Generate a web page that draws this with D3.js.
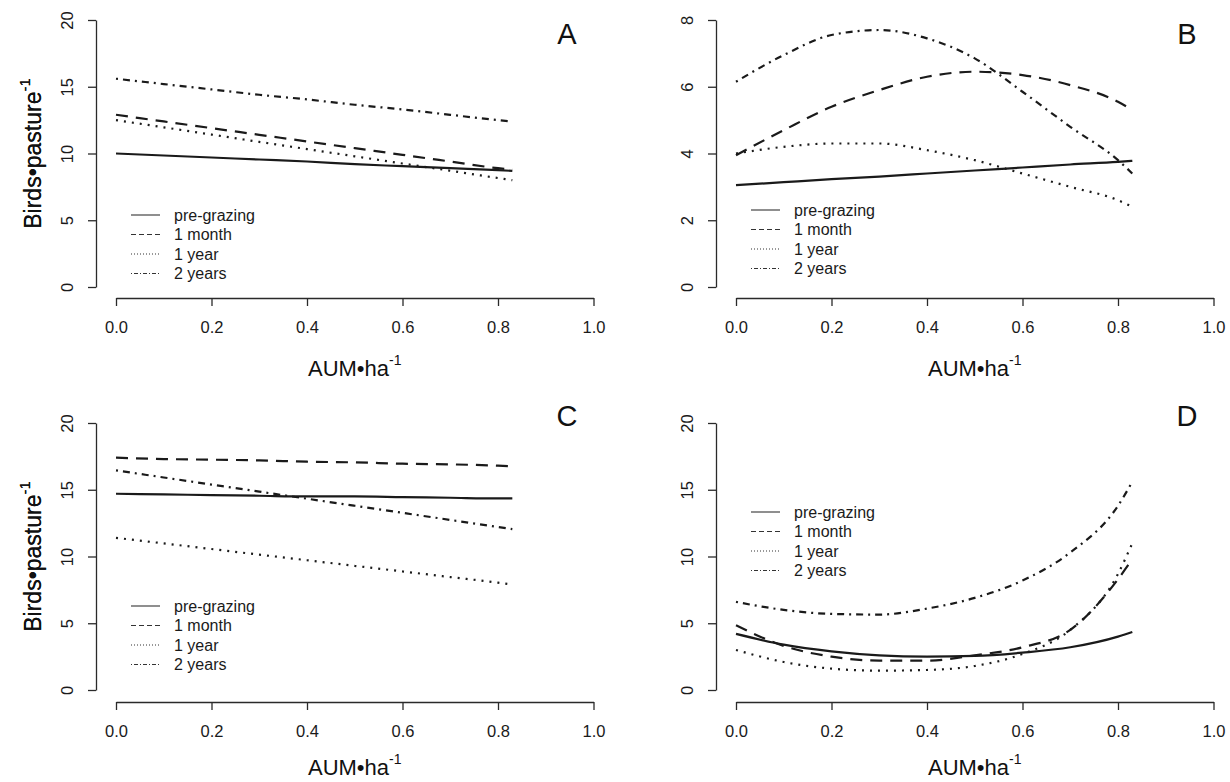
<!DOCTYPE html>
<meta charset="utf-8">
<script src="https://d3js.org/d3.v7.min.js"></script>
<style>
  body { margin: 0; background: #fff; }
  svg { font-family: "Liberation Sans", Arial, Helvetica, sans-serif; }
  .axis path, .axis line { stroke: #2a2a2a; stroke-width: 1.3px; }
  .axis text { font-size: 16.5px; fill: #1a1a1a; font-family: "Liberation Sans", Arial, sans-serif; }
</style>
<body>
<script>

// x values (AUM per ha) where the fitted curves were read
var aum = [0, 0.1, 0.2, 0.3, 0.4, 0.5, 0.6, 0.7, 0.8, 0.83];
var seriesNames = ["pre-grazing", "1 month", "1 year", "2 years"];
var xTicks = [0, 0.2, 0.4, 0.6, 0.8, 1.0];

// panel A
var aPre   = [10.0, 9.85, 9.7, 9.55, 9.4, 9.2, 9.05, 8.9, 8.75, 8.7];
var aMonth = [12.9, 12.4, 11.9, 11.4, 10.9, 10.4, 9.9, 9.4, 8.9, 8.8];
var aYear  = [12.5, 11.96, 11.42, 10.87, 10.33, 9.79, 9.25, 8.71, 8.16, 8.0];
var aTwo   = [15.6, 15.2, 14.8, 14.4, 14.05, 13.65, 13.3, 12.9, 12.5, 12.4];

// panel B
var bPre   = [3.05, 3.14, 3.23, 3.31, 3.40, 3.49, 3.58, 3.67, 3.75, 3.78];
var bMonth = [3.95, 4.7, 5.4, 5.9, 6.3, 6.45, 6.35, 6.05, 5.55, 5.3];
var bYear  = [4.0, 4.2, 4.3, 4.3, 4.1, 3.8, 3.4, 3.0, 2.6, 2.4];
var bTwo   = [6.15, 6.95, 7.55, 7.7, 7.45, 6.85, 5.85, 4.8, 3.8, 3.4];

// panel C
var cPre   = [14.7, 14.65, 14.6, 14.55, 14.5, 14.5, 14.45, 14.4, 14.35, 14.35];
var cMonth = [17.4, 17.3, 17.25, 17.2, 17.1, 17.05, 16.95, 16.9, 16.8, 16.75];
var cYear  = [11.4, 10.98, 10.56, 10.14, 9.72, 9.3, 8.88, 8.46, 8.04, 7.9];
var cTwo   = [16.45, 15.92, 15.39, 14.86, 14.33, 13.8, 13.27, 12.74, 12.21, 12.05];

// panel D
var dPre   = [4.2, 3.4, 2.9, 2.6, 2.5, 2.55, 2.8, 3.2, 4.0, 4.35];
var dMonth = [4.85, 3.3, 2.5, 2.2, 2.2, 2.6, 3.2, 4.5, 8.3, 9.8];
var dYear  = [3.0, 2.1, 1.6, 1.45, 1.5, 1.8, 2.7, 4.5, 8.7, 11.0];
var dTwo   = [6.6, 6.0, 5.7, 5.65, 6.1, 6.9, 8.2, 10.3, 13.8, 15.6];

var yTicks20 = [0, 5, 10, 15, 20];
var yTicks8 = [0, 2, 4, 6, 8];

// line styles: solid, dashed, dotted, dot-dash
var dashMain = [null, "12,8", "2,6", "2,5,7,5"];
var dashLegend = [null, "5,3", "1,2", "1,2,4,2"];

// layout of the four panels (pixel positions)
var panels = [
  {letter: "A", series: [aPre, aMonth, aYear, aTwo], yMax: 20, yTicks: yTicks20,
   x0: 116, x1: 593.5, yTop: 20, yBot: 287, yAxisX: 96, xAxisY: 298, titleY: 376, legendY: [215, 234.5, 254, 273.5]},
  {letter: "B", series: [bPre, bMonth, bYear, bTwo], yMax: 8, yTicks: yTicks8,
   x0: 736, x1: 1213.5, yTop: 20, yBot: 287, yAxisX: 716, xAxisY: 298, titleY: 376, legendY: [210, 229.5, 249, 268.5]},
  {letter: "C", series: [cPre, cMonth, cYear, cTwo], yMax: 20, yTicks: yTicks20,
   x0: 116, x1: 593.5, yTop: 423, yBot: 690, yAxisX: 96, xAxisY: 702, titleY: 775, legendY: [606, 625.5, 645, 664.5]},
  {letter: "D", series: [dPre, dMonth, dYear, dTwo], yMax: 20, yTicks: yTicks20,
   x0: 736, x1: 1213.5, yTop: 423, yBot: 690, yAxisX: 716, xAxisY: 702, titleY: 775, legendY: [512, 531.5, 551, 570.5]}
];

var svg = d3.select("body").append("svg")
  .attr("width", 1230)
  .attr("height", 782);

panels.forEach(function(p) {
  var x = d3.scaleLinear().domain([0, 1]).range([p.x0, p.x1]);
  var y = d3.scaleLinear().domain([0, p.yMax]).range([p.yBot, p.yTop]);
  var g = svg.append("g");

  // y axis, R style: rotated labels, detached from the plot
  var ya = g.append("g")
    .attr("class", "axis")
    .attr("transform", "translate(" + p.yAxisX + ",0)")
    .call(d3.axisLeft(y).tickValues(p.yTicks).tickSize(8).tickSizeOuter(0));
  ya.selectAll("text")
    .attr("x", null).attr("dy", null)
    .attr("transform", "translate(-29,0) rotate(-90)")
    .attr("text-anchor", "middle")
    .attr("dominant-baseline", "central");

  // x axis
  var xa = g.append("g")
    .attr("class", "axis")
    .attr("transform", "translate(0," + p.xAxisY + ")")
    .call(d3.axisBottom(x).tickValues(xTicks).tickFormat(d3.format(".1f")).tickSize(8).tickSizeOuter(0));
  xa.selectAll("text").attr("y", 29).attr("dy", "0.35em");

  // curves
  var line = d3.line()
    .x(function(d, i) { return x(aum[i]); })
    .y(function(d) { return y(d); })
    .curve(d3.curveMonotoneX);

  p.series.forEach(function(s, i) {
    g.append("path")
      .datum(s)
      .attr("d", line)
      .attr("fill", "none")
      .attr("stroke", "#1a1a1a")
      .attr("stroke-width", 2.2)
      .attr("stroke-dasharray", dashMain[i]);
  });

  // legend
  seriesNames.forEach(function(name, i) {
    var ly = p.legendY[i];
    g.append("line")
      .attr("x1", p.x0 + 15).attr("x2", p.x0 + 44)
      .attr("y1", ly).attr("y2", ly)
      .attr("stroke", "#333")
      .attr("stroke-width", 1.1)
      .attr("stroke-dasharray", dashLegend[i]);
    g.append("text")
      .attr("x", p.x0 + 58).attr("y", ly)
      .attr("dominant-baseline", "central")
      .attr("font-size", 16)
      .attr("fill", "#1a1a1a")
      .text(name);
  });

  // panel letter
  g.append("text")
    .attr("x", p.x0 + 451).attr("y", p.letter == "A" || p.letter == "B" ? p.yTop + 14 : p.yTop - 7)
    .attr("text-anchor", "middle")
    .attr("dominant-baseline", "central")
    .attr("font-size", 29)
    .attr("fill", "#111")
    .text(p.letter);

  // axis titles
  var xt = g.append("text")
    .attr("x", (p.x0 + p.x1) / 2)
    .attr("y", p.titleY)
    .attr("text-anchor", "middle")
    .attr("font-size", 22)
    .attr("fill", "#111")
    .text("AUM\u2022ha");
  xt.append("tspan").attr("dy", -11).attr("font-size", 14).text("-1");

  var yt = g.append("text")
    .attr("transform", "translate(41," + ((p.yTop + p.yBot) / 2) + ") rotate(-90)")
    .attr("text-anchor", "middle")
    .attr("font-size", 23)
    .attr("fill", "#111")
    .text("Birds\u2022pasture");
  yt.append("tspan").attr("dy", -11).attr("font-size", 15).text("-1");
});

</script>
</body>
